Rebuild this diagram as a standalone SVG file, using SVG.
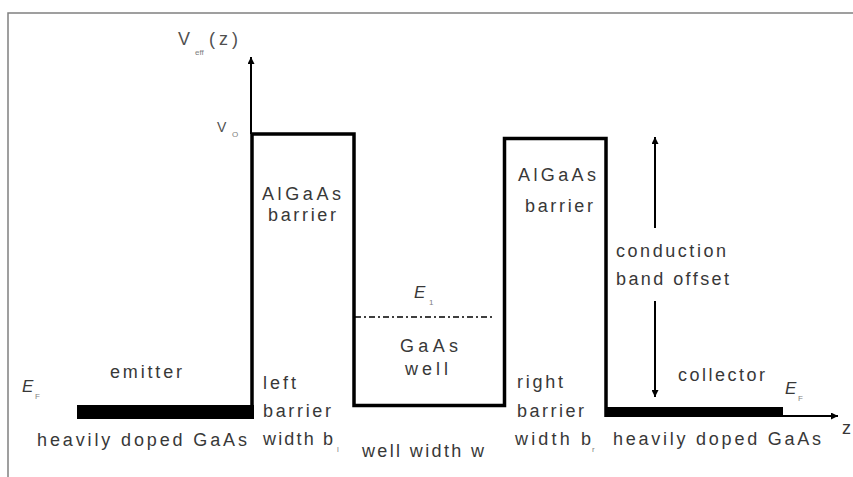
<svg xmlns="http://www.w3.org/2000/svg" width="853" height="477" viewBox="0 0 853 477">
<style>
 .t{font-family:"Liberation Sans",Arial,sans-serif;font-size:18px;fill:#383838}
 .v{font-family:"Liberation Sans",Arial,sans-serif;fill:#505050}
 .sub{font-family:"Liberation Sans",Arial,sans-serif;font-size:8px;fill:#808080}
 .it{font-family:"Liberation Sans",Arial,sans-serif;font-style:italic;font-size:17px;fill:#383838}
 .band{fill:none;stroke:#000;stroke-width:3.5;stroke-linejoin:miter}
 .ax{stroke:#000;stroke-width:2;fill:none}
 .frame{stroke:#808080;stroke-width:1.5;fill:none}
 .lvl{stroke:#000;stroke-width:1.3;stroke-dasharray:6,3,2,3;fill:none}
</style>
<defs>
 <marker id="ah" viewBox="0 0 10 10" refX="10" refY="5" markerWidth="8" markerHeight="7" markerUnits="userSpaceOnUse" orient="auto">
  <path d="M0,0 L10,5 L0,10 z" fill="#000"/>
 </marker>
</defs>

<g id="frame">
 <path class="frame" d="M8,477 V13 H853"/>
</g>

<g id="connectors">
 <line id="v-axis" class="ax" x1="251" y1="134" x2="251" y2="57" marker-end="url(#ah)"/>
 <line id="z-axis" class="ax" x1="783" y1="416" x2="838" y2="416" marker-end="url(#ah)"/>
 <line id="offset-up" class="ax" x1="655" y1="228" x2="655" y2="137" marker-end="url(#ah)"/>
 <line id="offset-down" class="ax" x1="655" y1="301" x2="655" y2="397" marker-end="url(#ah)"/>
</g>

<g id="band-profile">
 <rect id="emitter-bar" x="77" y="405" width="177" height="14" fill="#000"/>
 <path class="band" d="M252,419 V134 H354 V405.5 H504.5 V138.5 H606 V417"/>
 <rect id="collector-bar" x="605" y="407" width="178" height="10" fill="#000"/>
 <line id="e1-level" class="lvl" x1="355" y1="317" x2="495" y2="317"/>
</g>

<g id="axis-labels">
 <text class="v" x="178" y="45" font-size="18">V</text>
 <text class="sub" x="195" y="55" font-size="7">eff</text>
 <text class="v" x="209" y="45" font-size="18" textLength="29" lengthAdjust="spacing">(z)</text>
 <text class="v" x="217" y="132" font-size="14">V</text>
 <text class="sub" x="232" y="137">O</text>
 <text class="t" x="842" y="434">z</text>
</g>

<g id="emitter">
 <text class="it" x="22" y="392">E</text>
 <text class="sub" x="35" y="399">F</text>
 <text class="t" x="110" y="378" textLength="72" lengthAdjust="spacing">emitter</text>
 <text class="t" x="37" y="446" textLength="210" lengthAdjust="spacing">heavily doped GaAs</text>
</g>

<g id="left-barrier">
 <text class="t" x="262" y="200" textLength="79" lengthAdjust="spacing">AlGaAs</text>
 <text class="t" x="268" y="221" textLength="68" lengthAdjust="spacing">barrier</text>
 <text class="t" x="263" y="389" textLength="33" lengthAdjust="spacing">left</text>
 <text class="t" x="263" y="417" textLength="68" lengthAdjust="spacing">barrier</text>
 <text class="t" x="263" y="445" textLength="70" lengthAdjust="spacing">width b</text>
 <text class="sub" x="337" y="452">l</text>
</g>

<g id="well">
 <text class="it" x="414" y="298">E</text>
 <text class="sub" x="429" y="305">1</text>
 <text class="t" x="400" y="352" textLength="58" lengthAdjust="spacing">GaAs</text>
 <text class="t" x="405" y="375" textLength="43" lengthAdjust="spacing">well</text>
 <text class="t" x="362" y="457" textLength="122" lengthAdjust="spacing">well width w</text>
</g>

<g id="right-barrier">
 <text class="t" x="518" y="181" textLength="78" lengthAdjust="spacing">AlGaAs</text>
 <text class="t" x="525" y="212" textLength="68" lengthAdjust="spacing">barrier</text>
 <text class="t" x="517" y="388" textLength="46" lengthAdjust="spacing">right</text>
 <text class="t" x="517" y="417" textLength="67" lengthAdjust="spacing">barrier</text>
 <text class="t" x="515" y="445" textLength="76" lengthAdjust="spacing">width b</text>
 <text class="sub" x="592" y="452">r</text>
</g>

<g id="offset-label">
 <text class="t" x="616" y="257" textLength="110" lengthAdjust="spacing">conduction</text>
 <text class="t" x="616" y="285" textLength="113" lengthAdjust="spacing">band offset</text>
</g>

<g id="collector">
 <text class="t" x="678" y="381" textLength="87" lengthAdjust="spacing">collector</text>
 <text class="it" x="785" y="394">E</text>
 <text class="sub" x="798" y="401">F</text>
 <text class="t" x="613" y="445" textLength="208" lengthAdjust="spacing">heavily doped GaAs</text>
</g>
</svg>
